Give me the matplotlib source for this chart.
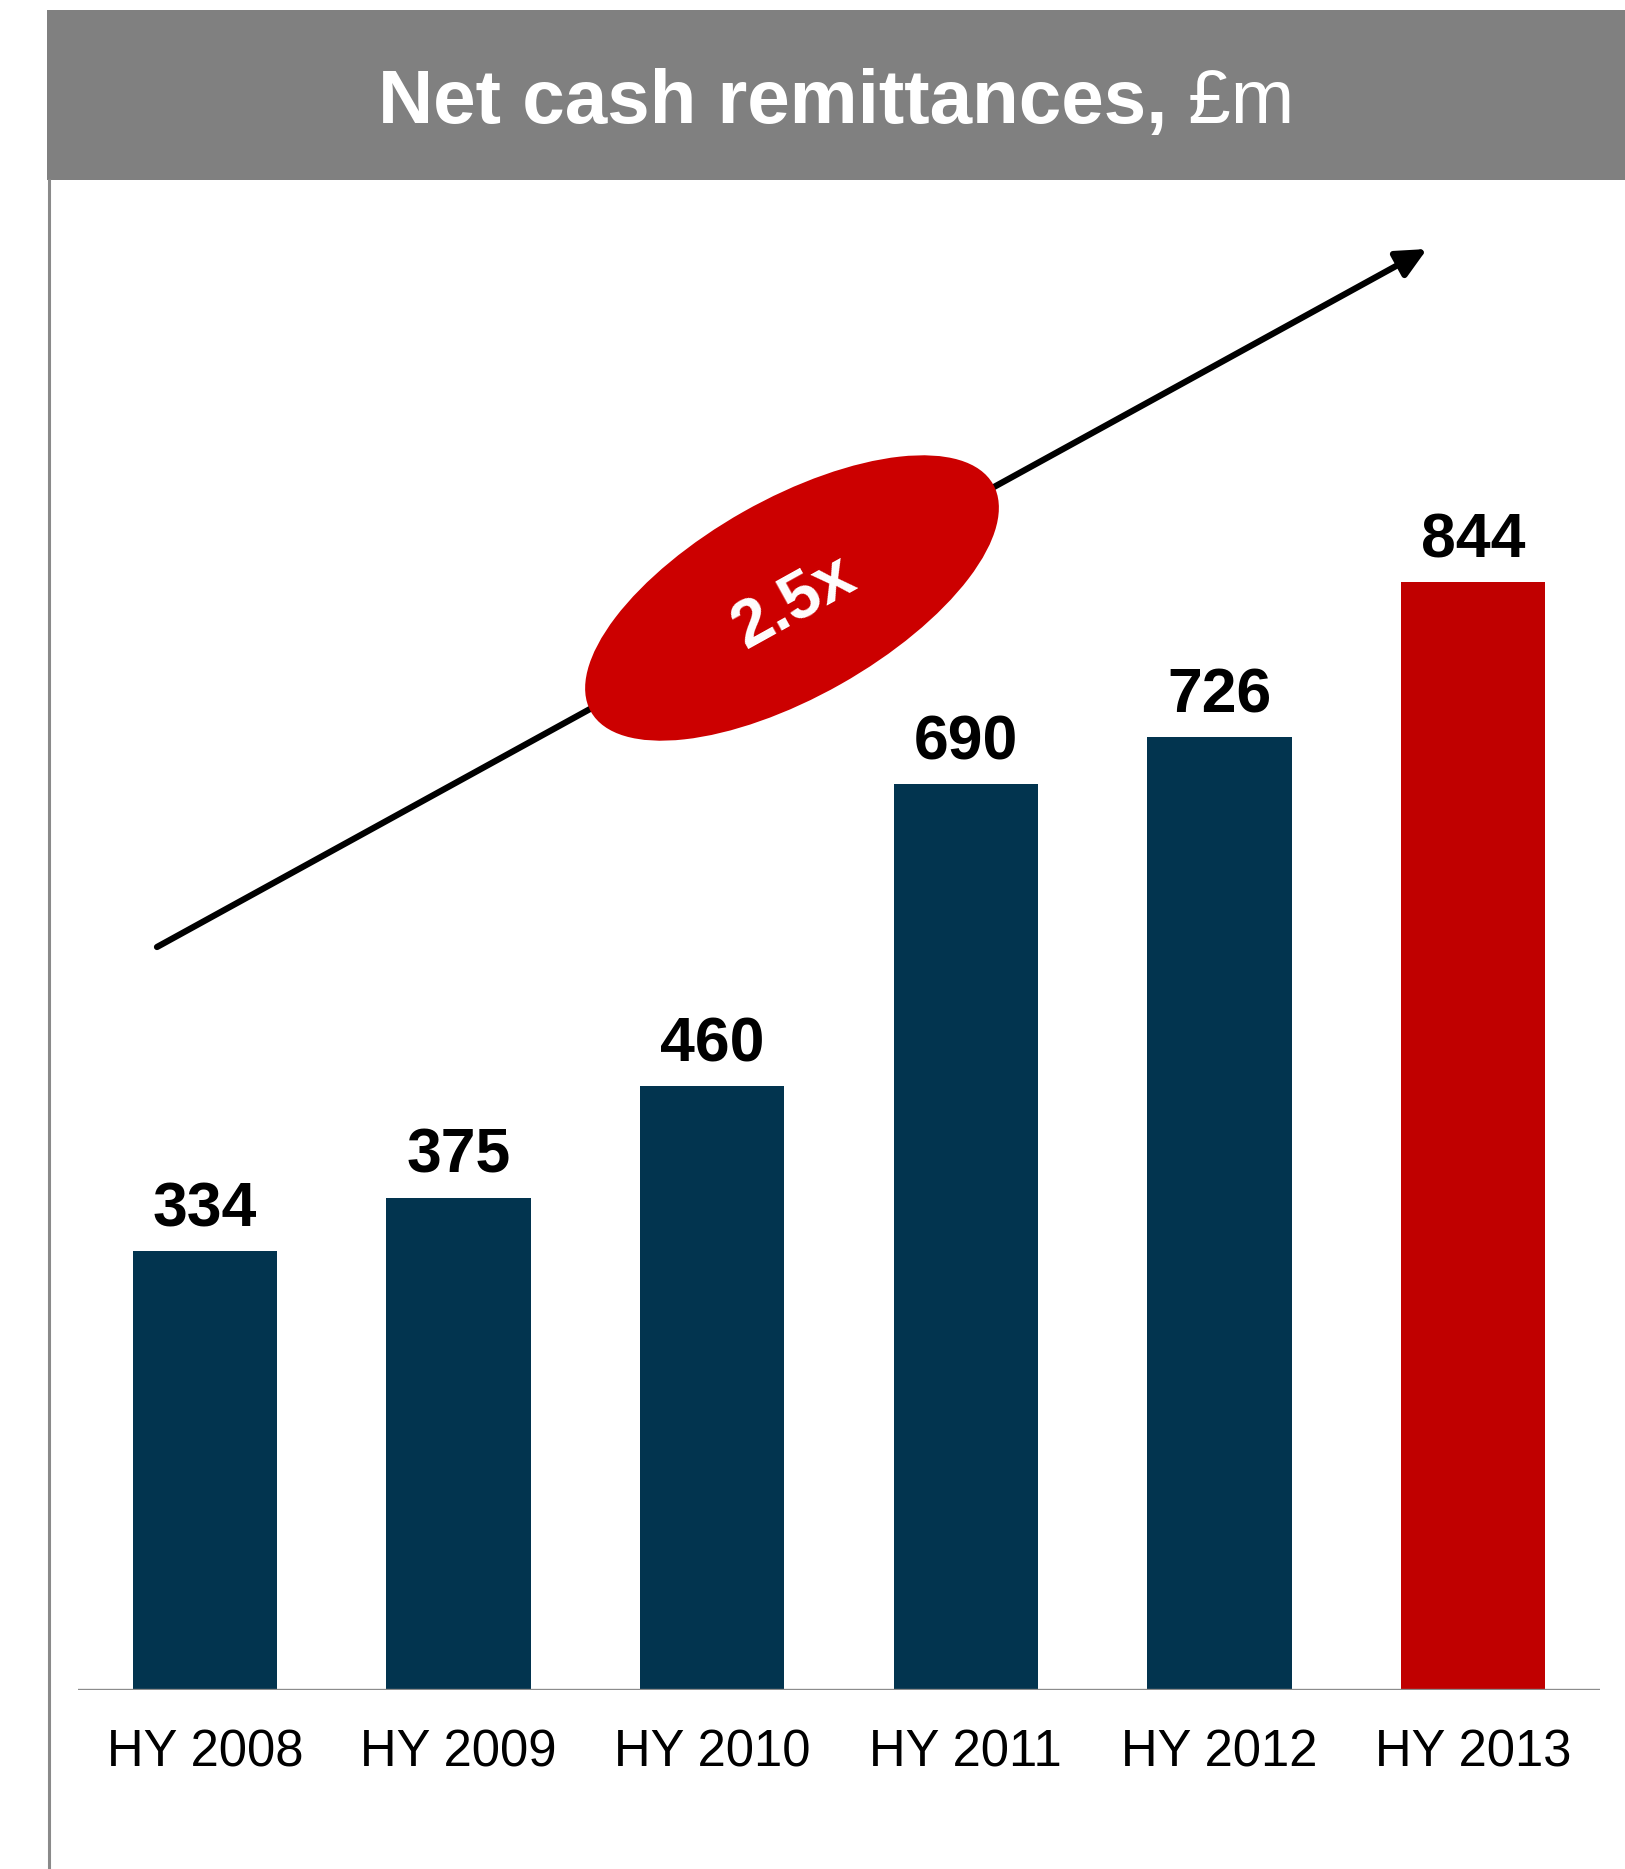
import matplotlib.pyplot as plt
from matplotlib.patches import Ellipse, Rectangle

plt.rcParams["font.family"] = ["Liberation Sans", "DejaVu Sans"]

# Net cash remittances by half year, in GBP millions
periods = ["HY 2008", "HY 2009", "HY 2010", "HY 2011", "HY 2012", "HY 2013"]
remittances = [334, 375, 460, 690, 726, 844]
growth_label = "2.5x"

NAVY = "#02344F"
RED = "#C00000"
OVAL_RED = "#CC0000"
GREY = "#808080"

W, H = 1625, 1869
fig = plt.figure(figsize=(W / 100, H / 100), dpi=100)

# Bar panel, placed in pixels (left, baseline, right, top)
left, base, right, top = 78, 1689.5, 1600, 180
ax = fig.add_axes([left / W, (H - base) / H, (right - left) / W, (base - top) / H])
px_per_unit = (base - 582.5) / 844
ax.set_xlim(-0.5, len(periods) - 0.5)
ax.set_ylim(0, (base - top) / px_per_unit)

bar_colors = [NAVY] * (len(periods) - 1) + [RED]
x = range(len(periods))
ax.bar(x, remittances, width=0.57, color=bar_colors, zorder=2)
ax.axhline(0, color="#8c8c8c", lw=2.4, zorder=3)

for xi, v in zip(x, remittances):
    ax.annotate(str(v), (xi, v), xytext=(0, 18), textcoords="offset points",
                ha="center", va="baseline", fontsize=45, fontweight="bold")

ax.set_xticks(list(x), periods, fontsize=36.5)
ax.tick_params(axis="x", length=0, pad=28)
ax.set_yticks([])
for s in ax.spines.values():
    s.set_visible(False)
ax.patch.set_alpha(0)

# Overlay in pixel units (y grows downward) for header, frame and growth arrow
ov = fig.add_axes([0, 0, 1, 1], zorder=5)
ov.set_xlim(0, W)
ov.set_ylim(H, 0)
ov.axis("off")
ov.patch.set_alpha(0)

ov.add_patch(Rectangle((47, 10), W - 47, 170, color=GREY, lw=0))
ov.plot([48.5, 48.5], [180, H], color="#8a8a8a", lw=2.2)

title_bold = ov.text(0, 123, "Net cash remittances,", color="white",
                     fontsize=55, fontweight="bold", va="baseline", ha="left")
title_unit = ov.text(0, 123, " \u00a3m", color="white", fontsize=55,
                     va="baseline", ha="left")
renderer = fig.canvas.get_renderer()
wb = title_bold.get_window_extent(renderer).width
wu = title_unit.get_window_extent(renderer).width
x0 = (47 + W) / 2 - (wb + wu) / 2
title_bold.set_x(x0)
title_unit.set_x(x0 + wb)

ov.annotate("", xy=(1427, 249), xytext=(157, 947),
            arrowprops=dict(arrowstyle="-|>,head_length=0.9,head_width=0.43",
                            mutation_scale=20, lw=4.5, color="black",
                            shrinkA=0, shrinkB=0), zorder=1)
ov.add_patch(Ellipse((792, 598), 462, 198, angle=-29.5, color=OVAL_RED, lw=0, zorder=2))
ov.text(795, 603, growth_label, color="white", fontsize=48, fontweight="bold",
        rotation=29, rotation_mode="anchor", ha="center", va="center", zorder=3)

fig.savefig("out.png", dpi=100, facecolor="white")
